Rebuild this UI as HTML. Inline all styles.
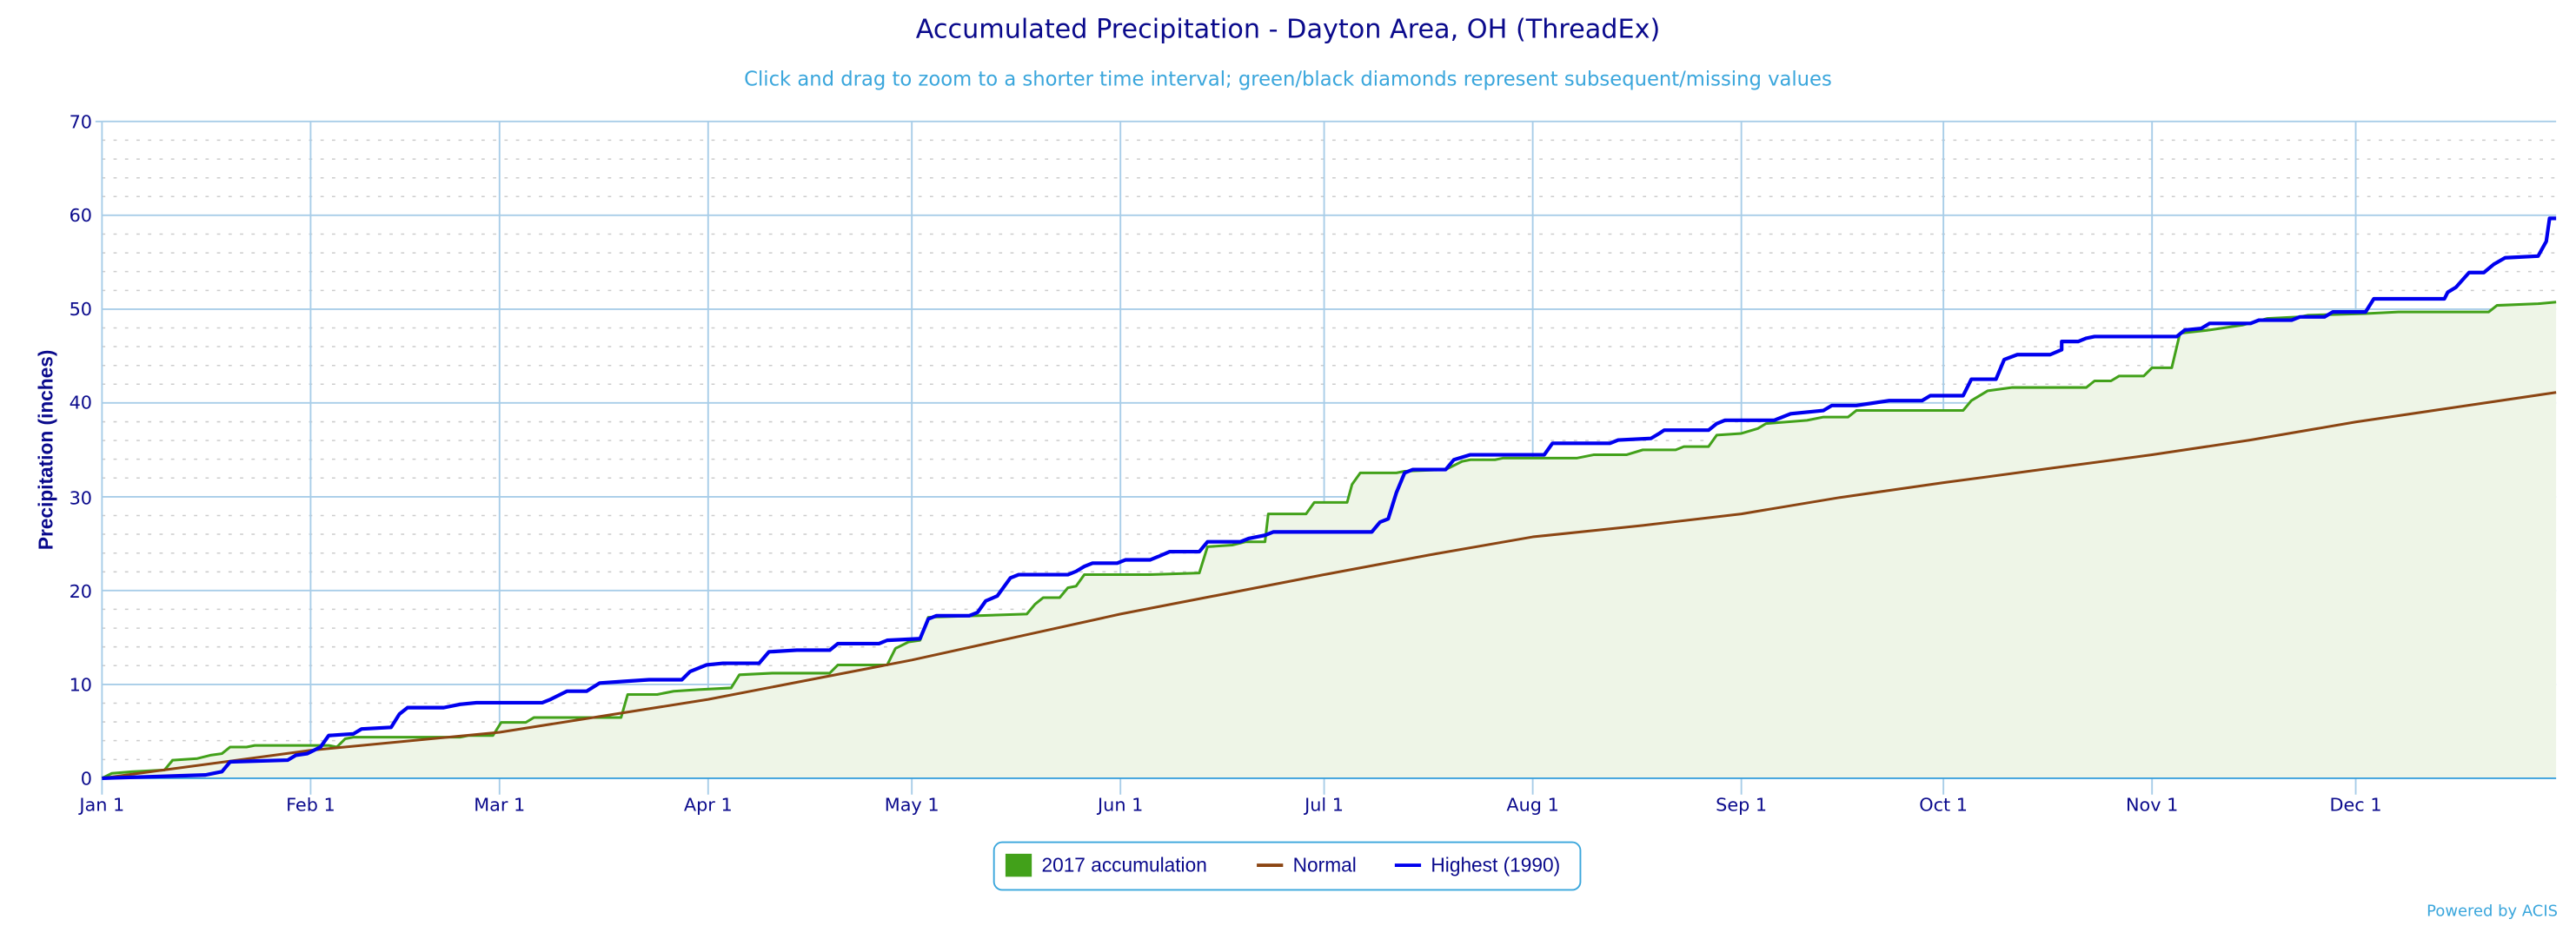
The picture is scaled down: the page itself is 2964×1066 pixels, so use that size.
<!DOCTYPE html>
<html><head><meta charset="utf-8"><style>html,body{margin:0;padding:0;background:#fff}svg{display:block}</style></head>
<body>
<svg width="2964" height="1066" viewBox="0 0 1568 564" xmlns="http://www.w3.org/2000/svg" font-family="'DejaVu Sans', 'Liberation Sans', sans-serif">
<rect width="1568" height="564" fill="#fff"/>
<text x="784" y="23" text-anchor="middle" font-size="16" fill="#0a0a8c">Accumulated Precipitation - Dayton Area, OH (ThreadEx)</text>
<text x="784" y="52" text-anchor="middle" font-size="12" fill="#3aa6dc">Click and drag to zoom to a shorter time interval; green/black diamonds represent subsequent/missing values</text>
<g stroke="#ccc" stroke-width="0.8" stroke-dasharray="2,5">
<line x1="62" x2="1556" y1="85.4" y2="85.4"/><line x1="62" x2="1556" y1="96.9" y2="96.9"/><line x1="62" x2="1556" y1="108.3" y2="108.3"/><line x1="62" x2="1556" y1="119.7" y2="119.7"/>
<line x1="62" x2="1556" y1="142.6" y2="142.6"/><line x1="62" x2="1556" y1="154" y2="154"/><line x1="62" x2="1556" y1="165.4" y2="165.4"/><line x1="62" x2="1556" y1="176.9" y2="176.9"/>
<line x1="62" x2="1556" y1="199.7" y2="199.7"/><line x1="62" x2="1556" y1="211.1" y2="211.1"/><line x1="62" x2="1556" y1="222.6" y2="222.6"/><line x1="62" x2="1556" y1="234" y2="234"/>
<line x1="62" x2="1556" y1="256.9" y2="256.9"/><line x1="62" x2="1556" y1="268.3" y2="268.3"/><line x1="62" x2="1556" y1="279.7" y2="279.7"/><line x1="62" x2="1556" y1="291.1" y2="291.1"/>
<line x1="62" x2="1556" y1="314" y2="314"/><line x1="62" x2="1556" y1="325.4" y2="325.4"/><line x1="62" x2="1556" y1="336.9" y2="336.9"/><line x1="62" x2="1556" y1="348.3" y2="348.3"/>
<line x1="62" x2="1556" y1="371.1" y2="371.1"/><line x1="62" x2="1556" y1="382.6" y2="382.6"/><line x1="62" x2="1556" y1="394" y2="394"/><line x1="62" x2="1556" y1="405.4" y2="405.4"/>
<line x1="62" x2="1556" y1="428.3" y2="428.3"/><line x1="62" x2="1556" y1="439.7" y2="439.7"/><line x1="62" x2="1556" y1="451.1" y2="451.1"/><line x1="62" x2="1556" y1="462.6" y2="462.6"/>
</g>
<g stroke="#a8cde8" stroke-width="1">
<line x1="62" x2="1556" y1="74" y2="74"/><line x1="62" x2="1556" y1="131.1" y2="131.1"/><line x1="62" x2="1556" y1="188.3" y2="188.3"/><line x1="62" x2="1556" y1="245.4" y2="245.4"/><line x1="62" x2="1556" y1="302.6" y2="302.6"/><line x1="62" x2="1556" y1="359.7" y2="359.7"/><line x1="62" x2="1556" y1="416.9" y2="416.9"/>
<line x1="189" x2="189" y1="74" y2="484"/><line x1="304" x2="304" y1="74" y2="484"/><line x1="431" x2="431" y1="74" y2="484"/><line x1="555" x2="555" y1="74" y2="484"/><line x1="682" x2="682" y1="74" y2="484"/><line x1="806" x2="806" y1="74" y2="484"/><line x1="933" x2="933" y1="74" y2="484"/><line x1="1060" x2="1060" y1="74" y2="484"/><line x1="1183" x2="1183" y1="74" y2="484"/><line x1="1310" x2="1310" y1="74" y2="484"/><line x1="1434" x2="1434" y1="74" y2="484"/>
<line x1="62" x2="62" y1="74" y2="484"/>
</g>
<g stroke="#a8cde8" stroke-width="1"><line x1="58" x2="62" y1="74" y2="74"/></g>
<polygon fill="#eef5e7" points="62,474 68,471 80,470 100,469 105,463 120,462 128,460 135,459 140,455 150,455 155,454 200,454 205,455 210,450 215,449 280,449 285,448 300,448 305,440 320,440 325,437 378,437 382,423 400,423 410,421 425,420 445,419 450,411 470,410 505,410 510,405 540,405 545,395 553,391 560,390 565,376 625,374 630,368 635,364 645,364 650,358 655,357 660,350 700,350 730,349 735,333 750,332 758,330 770,330 772,313 795,313 800,306 820,306 823,295 828,288 850,288 855,287 880,286 890,281 895,280 910,280 915,279 960,279 970,277 990,277 1000,274 1020,274 1025,272 1040,272 1045,265 1060,264 1070,261 1075,258 1100,256 1110,254 1125,254 1130,250 1195,250 1200,244 1210,238 1225,236 1270,236 1275,232 1285,232 1290,229 1305,229 1310,224 1322,224 1327,203 1345,201 1365,198 1380,194 1400,193 1405,192 1440,191 1460,190 1515,190 1520,186 1545,185 1556,184 1556,474"/>
<line x1="62" x2="1556" y1="474" y2="474" stroke="#3aa0dc" stroke-width="1"/>
<polyline fill="none" stroke="#42a11a" stroke-width="1.6" stroke-linejoin="round" points="62,474 68,471 80,470 100,469 105,463 120,462 128,460 135,459 140,455 150,455 155,454 200,454 205,455 210,450 215,449 280,449 285,448 300,448 305,440 320,440 325,437 378,437 382,423 400,423 410,421 425,420 445,419 450,411 470,410 505,410 510,405 540,405 545,395 553,391 560,390 565,376 625,374 630,368 635,364 645,364 650,358 655,357 660,350 700,350 730,349 735,333 750,332 758,330 770,330 772,313 795,313 800,306 820,306 823,295 828,288 850,288 855,287 880,286 890,281 895,280 910,280 915,279 960,279 970,277 990,277 1000,274 1020,274 1025,272 1040,272 1045,265 1060,264 1070,261 1075,258 1100,256 1110,254 1125,254 1130,250 1195,250 1200,244 1210,238 1225,236 1270,236 1275,232 1285,232 1290,229 1305,229 1310,224 1322,224 1327,203 1345,201 1365,198 1380,194 1400,193 1405,192 1440,191 1460,190 1515,190 1520,186 1545,185 1556,184"/>
<polyline fill="none" stroke="#8b4513" stroke-width="1.6" stroke-linejoin="round" points="62,474 189,457 304,446 431,426 555,402 682,374 806,350 870,338 933,327 1000,320 1060,313 1120,303 1183,294 1250,285 1310,277 1370,268 1434,257 1495,248 1556,239"/>
<polyline fill="none" stroke="#0000ee" stroke-width="2.2" stroke-linejoin="round" points="62,474 95,473 125,472 135,470 140,464 175,463 180,460 187,459 195,455 200,448 215,447 220,444 238,443 243,435 248,431 270,431 280,429 290,428 330,428 335,426 345,421 357,421 365,416 380,415 395,414 415,414 420,409 430,405 440,404 462,404 468,397 485,396 505,396 510,392 535,392 540,390 560,389 565,377 570,375 590,375 595,373 600,366 607,363 615,352 620,350 650,350 655,348 660,345 665,343 680,343 685,341 700,341 705,339 712,336 730,336 735,330 755,330 760,328 770,326 775,324 835,324 840,318 845,316 850,300 855,288 860,286 880,286 885,280 895,277 940,277 945,270 980,270 985,268 1005,267 1010,264 1013,262 1040,262 1045,258 1050,256 1080,256 1090,252 1110,250 1115,247 1130,247 1150,244 1170,244 1175,241 1195,241 1200,231 1215,231 1220,219 1228,216 1248,216 1255,213 1255,208 1265,208 1270,206 1275,205 1325,205 1330,201 1340,200 1345,197 1370,197 1375,195 1395,195 1400,193 1415,193 1420,190 1440,190 1445,182 1488,182 1490,178 1495,175 1503,166 1512,166 1518,161 1525,157 1545,156 1550,147 1552,133 1556,133"/>
<g font-size="11" fill="#0a0a8c" text-anchor="end">
<text x="56" y="78">70</text><text x="56" y="135">60</text><text x="56" y="192">50</text><text x="56" y="249">40</text><text x="56" y="307">30</text><text x="56" y="364">20</text><text x="56" y="421">10</text><text x="56" y="478">0</text>
</g>
<g font-size="11" fill="#0a0a8c" text-anchor="middle">
<text x="62" y="494">Jan 1</text><text x="189" y="494">Feb 1</text><text x="304" y="494">Mar 1</text><text x="431" y="494">Apr 1</text><text x="555" y="494">May 1</text><text x="682" y="494">Jun 1</text><text x="806" y="494">Jul 1</text><text x="933" y="494">Aug 1</text><text x="1060" y="494">Sep 1</text><text x="1183" y="494">Oct 1</text><text x="1310" y="494">Nov 1</text><text x="1434" y="494">Dec 1</text>
</g>
<text transform="translate(32,274) rotate(-90)" text-anchor="middle" font-family="'Liberation Sans Narrow','Liberation Sans',sans-serif" font-weight="bold" font-size="12" fill="#0a0a8c">Precipitation (inches)</text>
<rect x="605" y="513" width="357" height="29" rx="5" fill="#fff" stroke="#3aa6dc" stroke-width="1"/>
<g font-family="'Liberation Sans Narrow','Liberation Sans',sans-serif" font-size="12" fill="#0a0a8c">
<rect x="612" y="520" width="16" height="14" fill="#42a11a"/>
<text x="634" y="531">2017 accumulation</text>
<line x1="765" x2="781" y1="527" y2="527" stroke="#8b4513" stroke-width="2"/>
<text x="787" y="531">Normal</text>
<line x1="849" x2="865" y1="527" y2="527" stroke="#0000ee" stroke-width="2"/>
<text x="871" y="531">Highest (1990)</text>
</g>
<text x="1557" y="558" text-anchor="end" font-size="9.5" fill="#3aa6dc">Powered by ACIS</text>
</svg>
</body></html>
